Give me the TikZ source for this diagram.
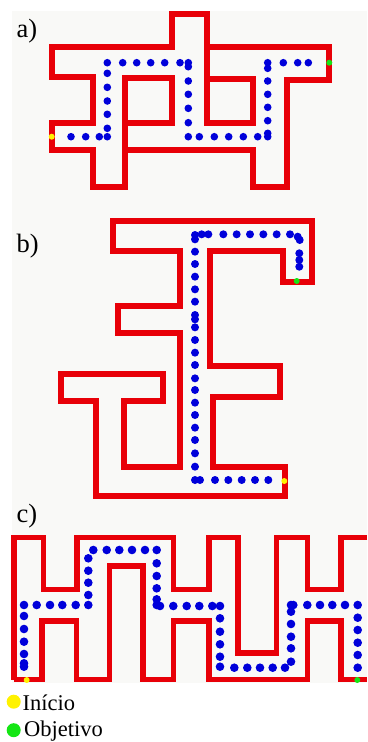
\documentclass[tikz,border=0pt]{standalone}
\usepackage{fontspec}
\setmainfont{Liberation Serif}
\definecolor{bgpanel}{RGB}{249,249,247}
\definecolor{mazered}{RGB}{232,0,8}
\definecolor{pathblue}{RGB}{0,0,218}
\definecolor{startyellow}{RGB}{255,242,0}
\definecolor{goalgreen}{RGB}{20,230,20}
\tikzset{
  wall/.style={draw=mazered, line width=6pt, line join=miter},
  wallc/.style={draw=mazered, line width=5.5pt, line join=miter},
  panellabel/.style={anchor=base west, inner sep=0pt, font=\fontsize{26.5}{26.5}\selectfont},
  legendtext/.style={anchor=base west, inner sep=0pt, font=\fontsize{22.5}{22.5}\selectfont},
}
\begin{document}
\begin{tikzpicture}[x=1pt,y=-1pt]
\useasboundingbox (0,0) rectangle (367,742);
\fill[white] (0,0) rectangle (367,742);
\fill[bgpanel] (12,11) rectangle (367,683);

% ---------- panel a ----------
\node[panellabel] (la) at (16.5,37.5) {a)};
\draw[wall] (52.2,47) -- (171.7,47) -- (171.7,14) -- (206.7,14) -- (206.7,47)
  -- (328.8,47) -- (328.8,80) -- (286.7,80) -- (286.7,186.7) -- (253.3,186.7)
  -- (253.3,150) -- (125,150) -- (125,186.7) -- (92.5,186.7) -- (92.5,150)
  -- (52.2,150) -- (52.2,123) -- (92.5,123) -- (92.5,76.5) -- (52.2,76.5) -- cycle;
\draw[wall] (125,150) -- (125,78) -- (171.7,78) -- (171.7,123) -- (125,123);
\draw[wall] (206.7,47) -- (206.7,122.5) -- (253.3,122.5) -- (253.3,79) -- (206.7,79);
\foreach \x/\y in {71/136.7,85.7/136.7,99.3/136.7,107.3/136.7,
  107.3/128.3,107.3/114.3,107.3/101,107.3/87.3,107.3/73.3,107.3/62.7,
  122.7/62.7,136.7/62.7,150.7/62.7,164.7/62.7,180/62.7,188.3/62.7,
  188.3/66.7,188.3/81,188.3/94.3,188.3/108.3,188.3/122.7,188.3/136.7,
  199.3/136.7,214.3/136.7,228.7/136.7,243.3/136.7,257.7/136.7,267.7/136.7,
  267.7/133.3,267.7/120.7,267.7/107.3,267.7/94.3,267.7/81,267.7/68.3,267.7/62.7,
  283.3/62.7,297.7/62.7,308.3/62.7}
  \fill[pathblue] (\x,\y) circle[radius=3.8pt];
\fill[startyellow] (51.7,136.7) circle[radius=3pt];
\fill[goalgreen] (329.3,62.7) circle[radius=3pt];

% ---------- panel b ----------
\node[panellabel] (lb) at (16.5,252.5) {b)};
\draw[wall] (113.3,221) -- (311.7,221) -- (311.7,281.7) -- (283.3,281.7) -- (283.3,251)
  -- (209.7,251) -- (209.7,365.7) -- (279.7,365.7) -- (279.7,397.3) -- (213,397.3)
  -- (213,466.7) -- (285.3,466.7) -- (285.3,495.7) -- (96.3,495.7) -- (96.3,400.7)
  -- (61.3,400.7) -- (61.3,374.3) -- (163,374.3) -- (163,400.7) -- (123.7,400.7)
  -- (123.7,466.7) -- (179.7,466.7) -- (179.7,333) -- (118.3,333) -- (118.3,306.3)
  -- (179.7,306.3) -- (179.7,250.7) -- (113.3,250.7) -- cycle;
\foreach \yy in {105,118,155,192,230,268,305,345,358,382,420,458,495,535,570,608,645,683,720,760,800,840}
  \fill[pathblue] (195,{\yy/3+200}) circle[radius=4pt];
\foreach \xx in {605,625,670,710,750,790,830,870}
  \fill[pathblue] ({\xx/3},234.3) circle[radius=4pt];
\foreach \x/\y in {297.7/236.7,299.7/240,299.3/253.3,299.3/260,299.3/266.7,
  200/480,215/480,228.3/480,241.7/480,255/480,268.3/480}
  \fill[pathblue] (\x,\y) circle[radius=4pt];
\fill[goalgreen] (296.7,281) circle[radius=3pt];
\fill[startyellow] (284.3,481) circle[radius=3pt];

% ---------- panel c ----------
\node[panellabel] (lc) at (16.5,522) {c)};
\draw[wallc] (14.2,679.5) -- (14.2,537.5) -- (43.3,537.5) -- (43.3,589.5) -- (77,589.5)
  -- (77,537.5) -- (173.7,537.5) -- (173.7,589.5) -- (208.8,589.5) -- (208.8,537.5)
  -- (237.8,537.5) -- (237.8,653) -- (276.5,653) -- (276.5,537.5) -- (307.5,537.5)
  -- (307.5,589.5) -- (340.8,589.5) -- (340.8,537.5) -- (367,537.5);
\draw[wallc] (14.2,679.5) -- (42.2,679.5) -- (42.2,621) -- (76.3,621) -- (76.3,679.5)
  -- (109.7,679.5) -- (109.7,566) -- (143,566) -- (143,679.5) -- (173.7,679.5)
  -- (173.7,621) -- (208.8,621) -- (208.8,679.5) -- (307.5,679.5) -- (307.5,621)
  -- (340.8,621) -- (340.8,679.5) -- (367,679.5);
\foreach \x/\y in {24/666.7,24/663.3,24/654,24/641.7,24/629,24/616,24/605,
  36.7/605,50/605,62.3/605,75.7/605,88.3/605,
  88.3/595,88.3/582.7,88.3/570.7,88.3/558.3,93.3/550,
  106.7/550,119.3/550,132/550,145/550,156.7/550,
  156.7/563.3,156.7/576,156.7/588.3,156.7/599.3,156.7/605,
  160/606,173.3/606,186.7/606,199.3/606,212.3/606,220/606,
  220/618.3,220/631.7,220/644.3,220/656.7,220/666.7,
  234.3/667.7,247.3/667.7,260/667.7,272.7/667.7,285/667.7,
  291/661.7,291/648.3,291/636.7,291/624,291/611.7,291/605,
  293.3/605,307.3/605,320/605,332.3/605,345/605,357.7/605,
  357.7/617.7,357.7/630,357.7/642.7,357.7/655,357.7/667.7}
  \fill[pathblue] (\x,\y) circle[radius=4.3pt];
\fill[startyellow] (26.7,680) circle[radius=3pt];
\fill[goalgreen] (357.3,680) circle[radius=3pt];

% ---------- legend ----------
\fill[startyellow] (13.7,701.7) circle[radius=7pt];
\node[legendtext] (li) at (22.5,710.5) {Início};
\fill[goalgreen] (13.7,730.2) circle[radius=7pt];
\node[legendtext] (lo) at (24,736.8) {Objetivo};
\end{tikzpicture}
\end{document}
